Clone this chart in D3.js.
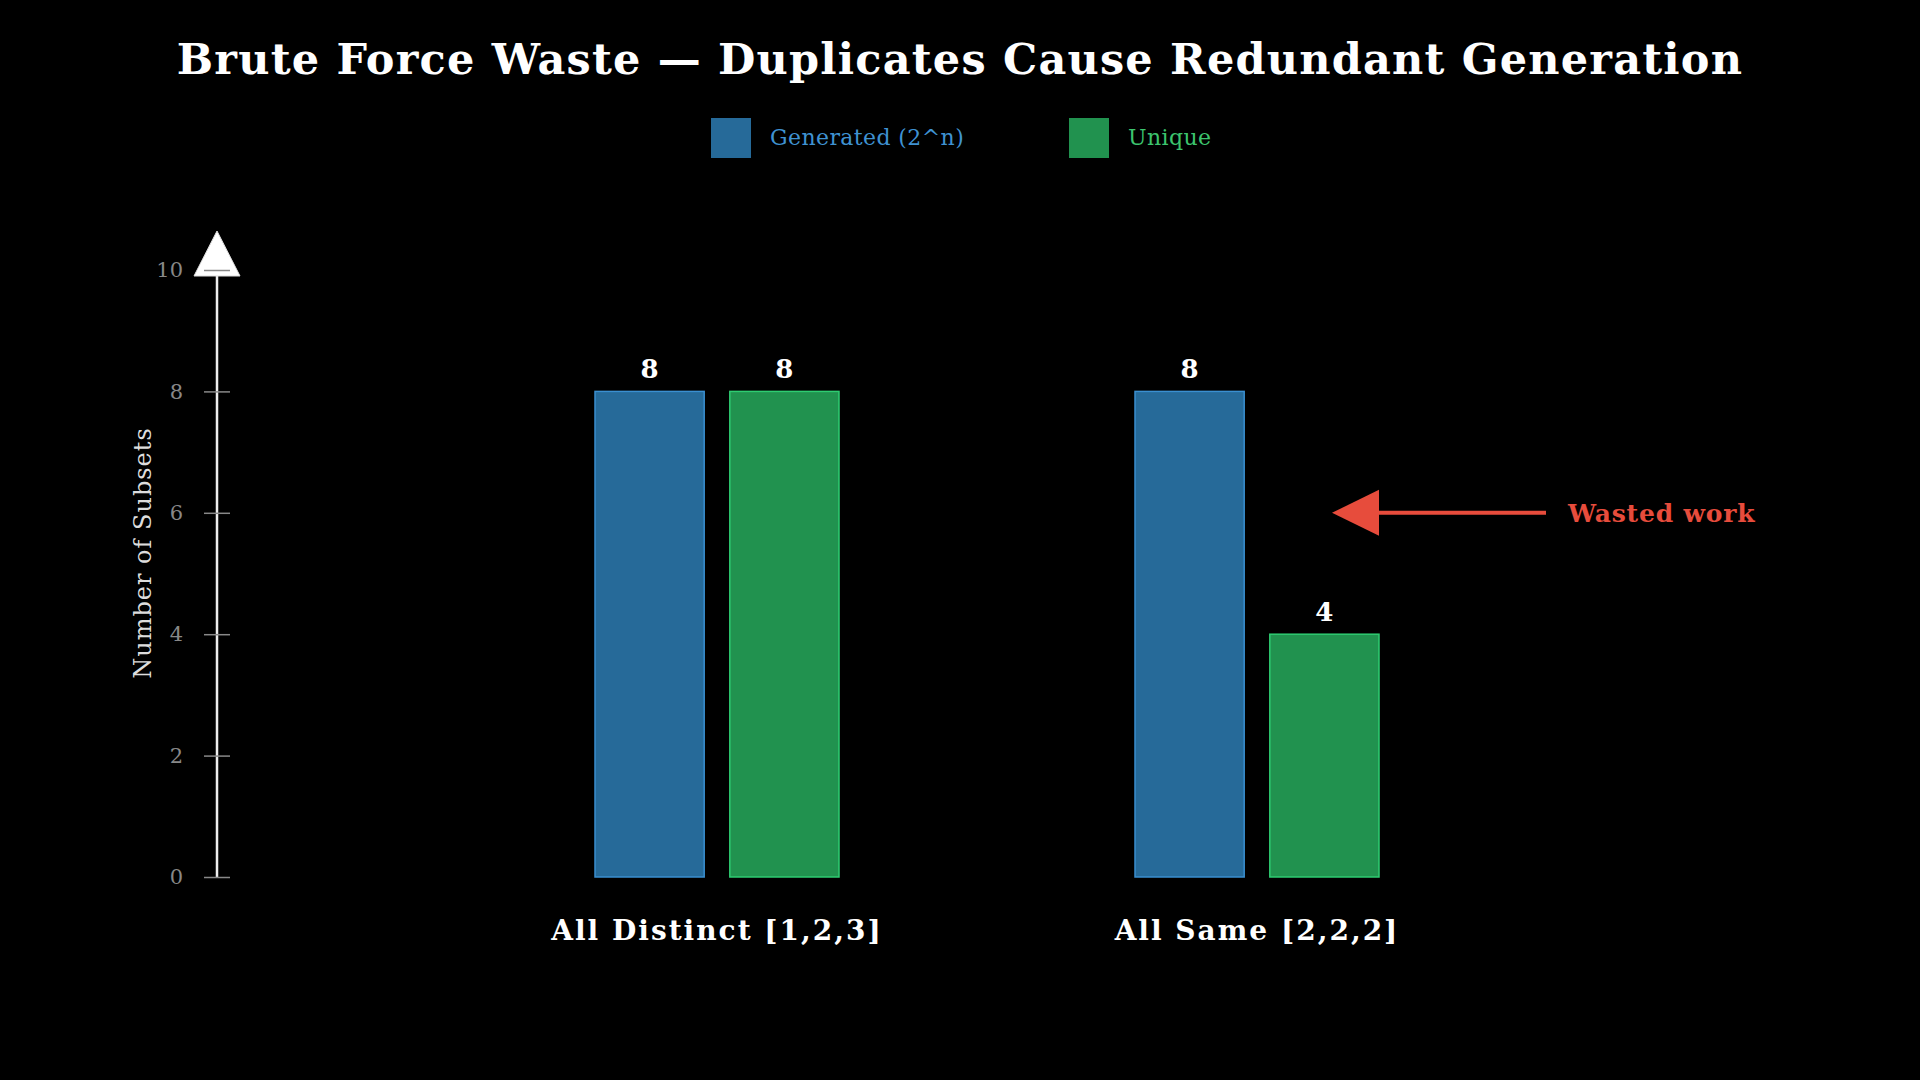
<!DOCTYPE html>
<meta charset="utf-8">
<style>
 body { margin: 0; background: #000; }
 text { font-family: "DejaVu Serif", serif; }
</style>
<body>
<script src="https://d3js.org/d3.v7.min.js"></script>
<script>

// data
var categories = ["All Distinct [1,2,3]", "All Same [2,2,2]"];
var seriesNames = ["Generated (2^n)", "Unique"];
var generated = [8, 8];
var unique = [8, 4];
var yTicks = [0, 2, 4, 6, 8, 10];
var annotationText = "Wasted work";
var annotationValue = 6;

var width = 1920, height = 1080;
var colors = {
  "Generated (2^n)": {fill: "#266a99", stroke: "#3a8fd0", text: "#3f92d2"},
  "Unique": {fill: "#21924f", stroke: "#2ecc71", text: "#3cc46e"}
};

var svg = d3.select("body").append("svg")
    .attr("width", width)
    .attr("height", height)
    .style("background", "#000");

// scales
var x = d3.scaleBand().domain(categories).range([447, 1527]).padding(0);
var xInner = d3.scaleBand().domain(seriesNames).range([-122, 122]).paddingInner(0.19).paddingOuter(0);
var y = d3.scaleLinear().domain([0, 10]).range([877, 270]);

var axisX = 217;

// title
svg.append("text")
    .attr("x", width / 2)
    .attr("y", 74)
    .attr("text-anchor", "middle")
    .attr("fill", "#fff")
    .style("font-size", "43px")
    .style("font-weight", "bold")
    .style("letter-spacing", "1.2px")
    .text("Brute Force Waste \u2014 Duplicates Cause Redundant Generation");

// legend
var legendX = [711, 1069];
seriesNames.forEach(function(s, i) {
  svg.append("rect")
      .attr("x", legendX[i]).attr("y", 118)
      .attr("width", 40).attr("height", 40)
      .attr("fill", colors[s].fill);
  svg.append("text")
      .attr("x", legendX[i] + 59).attr("y", 145)
      .attr("fill", colors[s].text)
      .style("font-size", "22px")
      .style("letter-spacing", "0.4px")
      .text(s);
});

// y axis line with arrow head
svg.append("line")
    .attr("x1", axisX).attr("x2", axisX)
    .attr("y1", y(0)).attr("y2", y(10) + 6)
    .attr("stroke", "#eee")
    .attr("stroke-width", 2.5);

svg.append("path")
    .attr("d", "M" + axisX + "," + (y(10) - 39) + "L" + (axisX + 23) + "," + (y(10) + 6) +
               "L" + (axisX - 23) + "," + (y(10) + 6) + "Z")
    .attr("fill", "#fff")
    .attr("stroke", "#ddd")
    .attr("stroke-width", 1);

// ticks
var yAxis = svg.append("g")
    .attr("transform", "translate(" + (axisX + 13) + ",0)")
    .call(d3.axisLeft(y).tickValues(yTicks).tickSize(26).tickPadding(21));
yAxis.select(".domain").remove();
yAxis.selectAll(".tick line").attr("stroke", "#888").attr("stroke-width", 1.5);
yAxis.selectAll(".tick text")
    .attr("fill", "#888")
    .style("font-size", "21px")
    .style("font-family", "DejaVu Serif");

// y label
svg.append("text")
    .attr("transform", "translate(151," + 553 + ") rotate(-90)")
    .attr("text-anchor", "middle")
    .attr("fill", "#ddd")
    .style("font-size", "24px")
    .style("letter-spacing", "1px")
    .text("Number of Subsets");

// bars
var rows = categories.map(function(c, i) {
  return [
    {cat: c, series: seriesNames[0], value: generated[i]},
    {cat: c, series: seriesNames[1], value: unique[i]}
  ];
});

var groups = svg.selectAll(".group")
    .data(rows)
  .enter().append("g")
    .attr("class", "group")
    .attr("transform", function(d) { return "translate(" + (x(d[0].cat) + x.bandwidth() / 2) + ",0)"; });

groups.selectAll("rect")
    .data(function(d) { return d; })
  .enter().append("rect")
    .attr("x", function(d) { return xInner(d.series); })
    .attr("y", function(d) { return y(d.value); })
    .attr("width", xInner.bandwidth())
    .attr("height", function(d) { return y(0) - y(d.value); })
    .attr("fill", function(d) { return colors[d.series].fill; })
    .attr("stroke", function(d) { return colors[d.series].stroke; })
    .attr("stroke-width", 1.5);

groups.selectAll(".val")
    .data(function(d) { return d; })
  .enter().append("text")
    .attr("class", "val")
    .attr("x", function(d) { return xInner(d.series) + xInner.bandwidth() / 2; })
    .attr("y", function(d) { return y(d.value) - 13; })
    .attr("text-anchor", "middle")
    .attr("fill", "#fff")
    .style("font-size", "26px")
    .style("font-weight", "bold")
    .text(function(d) { return d.value; });

// category labels
svg.selectAll(".cat")
    .data(categories)
  .enter().append("text")
    .attr("class", "cat")
    .attr("x", function(d) { return x(d) + x.bandwidth() / 2; })
    .attr("y", 940)
    .attr("text-anchor", "middle")
    .attr("fill", "#fff")
    .style("font-size", "28px")
    .style("font-weight", "bold")
    .style("letter-spacing", "2px")
    .text(function(d) { return d; });

// annotation arrow
var c2 = x(categories[1]) + x.bandwidth() / 2;
var ay = y(annotationValue);
svg.append("line")
    .attr("x1", c2 + 120).attr("x2", c2 + 289)
    .attr("y1", ay).attr("y2", ay)
    .attr("stroke", "#e74c3c")
    .attr("stroke-width", 4);
svg.append("path")
    .attr("d", "M" + (c2 + 75) + "," + ay + "L" + (c2 + 122) + "," + (ay - 23) +
               "L" + (c2 + 122) + "," + (ay + 23) + "Z")
    .attr("fill", "#e74c3c");
svg.append("text")
    .attr("x", c2 + 311)
    .attr("y", ay + 9)
    .attr("fill", "#e74c3c")
    .style("font-size", "25px")
    .style("font-weight", "bold")
    .style("letter-spacing", "0.8px")
    .text(annotationText);

</script>
</body>
